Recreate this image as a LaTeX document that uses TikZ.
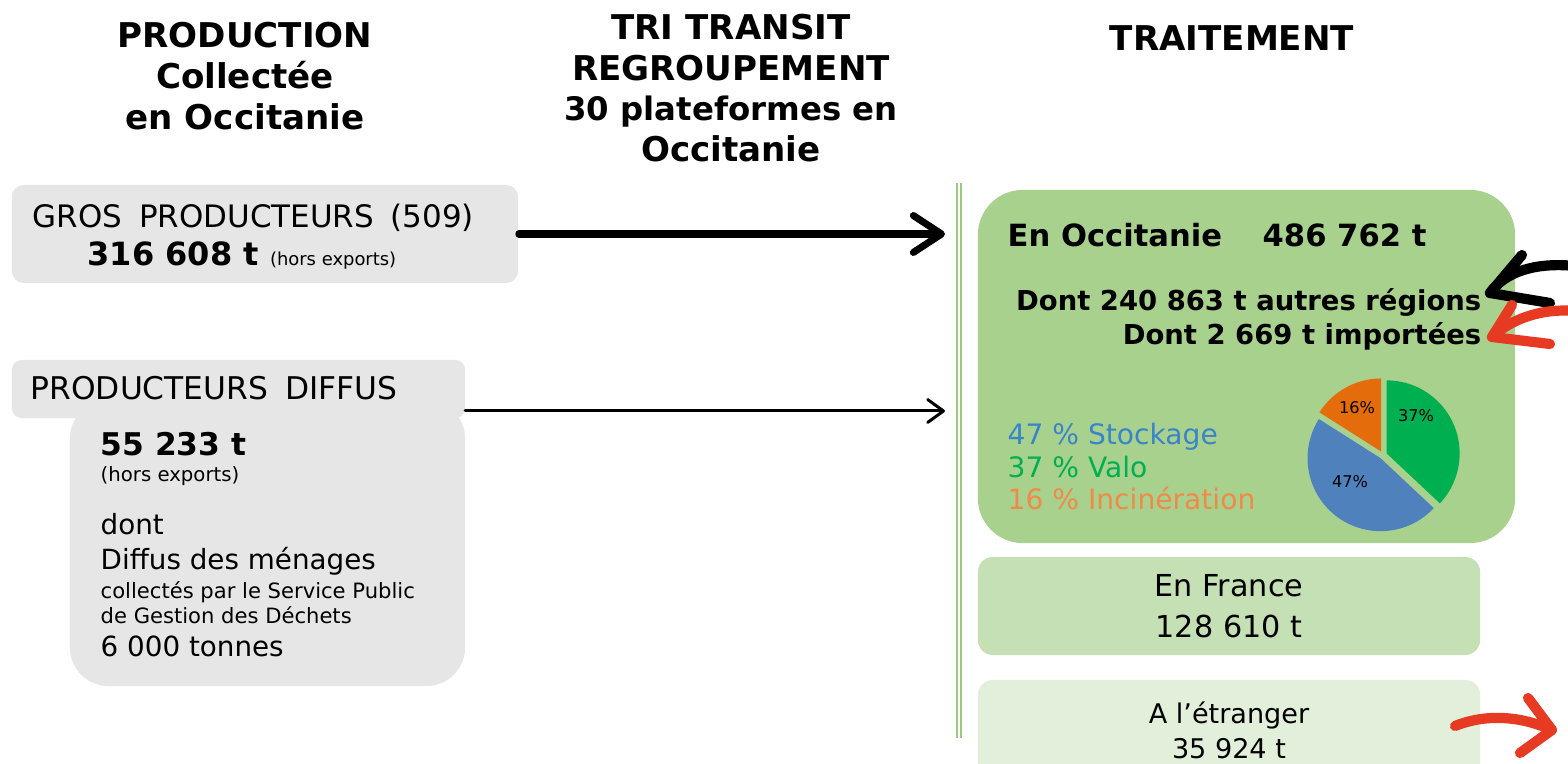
\documentclass[tikz,border=0pt]{standalone}
\usepackage{fontspec}
\setmainfont{DejaVu Sans}
\usetikzlibrary{arrows.meta,calc,positioning}
\definecolor{BoxGrey}{HTML}{E6E6E6}
\definecolor{LeafGreen}{HTML}{A9D18E}
\definecolor{SageGreen}{HTML}{C5E0B4}
\definecolor{MintGreen}{HTML}{E2EFDA}
\definecolor{RuleGreen}{HTML}{9BCB7A}
\definecolor{StockBlue}{HTML}{4F81BD}
\definecolor{LegendBlue}{HTML}{3A84C8}
\definecolor{ValoGreen}{HTML}{00B050}
\definecolor{IncinOrange}{HTML}{E46C0A}
\definecolor{LegendOrange}{HTML}{F08A48}
\definecolor{MarkerRed}{HTML}{E63A22}
\newcommand{\fs}[2]{\fontsize{#1}{#2}\selectfont}
\newcommand{\pieslice}[5]{%
  \fill[#1] ({#4}:{#5}) -- ++({#2}:73)
    arc[start angle=#2, end angle=#3, radius=73] -- cycle;%
}
\tikzset{
  panel/.style={rounded corners=#1,inner sep=0pt,draw=none},
  head/.style={font=\bfseries\fs{9.7}{11.6},align=center,inner sep=0pt},
  txt/.style={inner sep=0pt,anchor=base west},
  flowthick/.style={line width=2pt,-{Straight Barb[length=8pt,width=10.5pt,round]}},
  flowthin/.style={line width=0.85pt,-{Straight Barb[length=4.5pt,width=6.5pt,round]}},
  penstroke/.style={draw=#1,line width=2.9pt,line cap=round,line join=round},
  pielabel/.style={inner sep=0pt,font=\fs{4.6}{5}},
}
\begin{document}
\begin{tikzpicture}[x=0.01cm,y=-0.01cm,line cap=round,line join=round]
  \useasboundingbox (0,0) rectangle (1568,764);
  \fill[white] (0,0) rectangle (1568,764);
  % column headings
  \node[head] (hProd) at (245,76) {PRODUCTION\\Collectée\\en Occitanie};
  \node[head] (hTri) at (731,88) {TRI TRANSIT\\REGROUPEMENT\\{\fs{9.2}{11.6}30 plateformes en}\\Occitanie};
  \node[head] (hTrait) at (1232,38) {TRAITEMENT};
  % producers
  \node[panel=3.4pt,fill=BoxGrey,minimum width=5.06cm,minimum height=0.98cm] (gros) at (265,234) {};
  \node[txt,font=\fs{8.8}{10}] (grosName) at (32,228) {GROS\hspace{2pt} PRODUCTEURS\hspace{2pt} (509)};
  \node[txt] (grosQty) at (87,266) {\bfseries\fs{9.1}{10}316 608 t \mdseries\fs{5.1}{6}(hors exports)};
  \node[panel=11pt,fill=BoxGrey,minimum width=3.95cm,minimum height=2.86cm] (diffBody) at (267.5,543) {};
  \node[panel=2.8pt,fill=BoxGrey,minimum width=4.53cm,minimum height=0.58cm] (diffTab) at (238.5,389) {};
  \node[txt,font=\fs{8.9}{10}] (diffName) at (30,400) {PRODUCTEURS\hspace{2pt} DIFFUS};
  \node[txt,font=\bfseries\fs{8.9}{10}] (d1) at (100,456) {55 233 t};
  \node[txt,font=\fs{5.6}{6}] (d2) at (100,482) {(hors exports)};
  \node[txt,font=\fs{7.9}{9}] (d3) at (100,535) {dont};
  \node[txt,font=\fs{7.9}{9}] (d4) at (100,570) {Diffus des ménages};
  \node[txt,font=\fs{6}{7}] (d5) at (100,599) {collectés par le Service Public};
  \node[txt,font=\fs{6}{7}] (d6) at (100,624) {de Gestion des Déchets};
  \node[txt,font=\fs{7.9}{9}] (d7) at (100,657) {6 000 tonnes};
  % flows to treatment
  \coordinate (sep) at (945,0);
  \coordinate (diffOut) at (465,411);
  \draw[flowthick] (gros.east) -- (gros.east -| sep);
  \draw[flowthin] (diffOut) -- (diffOut -| sep);
  \foreach \sx in {957,961}
    \draw[RuleGreen,line width=0.6pt,line cap=butt] (\sx,183) -- (\sx,738);
  % treatment
  \node[panel=12.8pt,fill=LeafGreen,minimum width=5.37cm,minimum height=3.53cm] (occ) at (1246.5,366.5) {};
  \node[txt,font=\bfseries\fs{8.7}{10}] (occTitle) at (1007,247) {En Occitanie};
  \node[txt,font=\bfseries\fs{8.7}{10}] (occQty) at (1262,247) {486 762 t};
  \node[txt,anchor=base east,font=\bfseries\fs{7.8}{9}] (occReg) at (1482,311) {Dont 240 863 t autres régions};
  \node[txt,anchor=base east,font=\bfseries\fs{7.8}{9}] (occImp) at (1482,345) {Dont 2 669 t importées};
  \node[txt,font=\fs{8}{9},text=LegendBlue] (legStock) at (1007,445) {47 \% Stockage};
  \node[txt,font=\fs{8}{9},text=ValoGreen] (legValo) at (1007,478) {37 \% Valo};
  \node[txt,font=\fs{8}{9},text=LegendOrange] (legIncin) at (1007,510) {16 \% Incinération};
  \begin{scope}[shift={(1383,455)},yscale=-1]
    \pieslice{ValoGreen}{90}{-43.2}{23.4}{4}
    \pieslice{StockBlue}{-43.2}{-212.4}{-127.8}{4}
    \pieslice{IncinOrange}{147.6}{90}{118.8}{4}
    \node[pielabel] (pieIncin) at (-26,47) {16\%};
    \node[pielabel] (pieValo) at (33,39) {37\%};
    \node[pielabel] (pieStock) at (-33,-27) {47\%};
  \end{scope}
  \node[panel=4.3pt,fill=SageGreen,minimum width=5.02cm,minimum height=0.98cm,
        align=center,font=\fs{8.6}{11.7}] (fra) at (1229,606) {En France\\128 610 t};
  \node[panel=4.3pt,fill=MintGreen,minimum width=5.02cm,minimum height=1cm,
        align=center,font=\fs{7.7}{10}] (etr) at (1229,730) {A l’étranger\\35 924 t};
  % hand drawn arrows
  \coordinate (blkFrom) at (1575,266);
  \coordinate (blkTip) at (1490,293);
  \coordinate (blkUp) at (1522,255);
  \coordinate (blkLow) at (1550,303);
  \draw[penstroke=black] (blkFrom) .. controls (1535,262) and (1505,272) .. (blkTip);
  \draw[penstroke=black] (blkUp) -- (blkTip) -- (blkLow);
  \coordinate (impFrom) at (1575,311);
  \coordinate (impTip) at (1492,337);
  \coordinate (impUp) at (1512,305);
  \coordinate (impLow) at (1550,344);
  \draw[penstroke=MarkerRed] (impFrom) .. controls (1540,308) and (1510,320) .. (impTip);
  \draw[penstroke=MarkerRed] (impUp) -- (impTip) -- (impLow);
  \coordinate (expFrom) at (1455,726);
  \coordinate (expTip) at (1552,730);
  \coordinate (expUp) at (1528,698);
  \coordinate (expLow) at (1520,753);
  \draw[penstroke=MarkerRed] (expFrom) .. controls (1490,712) and (1525,718) .. (expTip);
  \draw[penstroke=MarkerRed] (expUp) -- (expTip) -- (expLow);
\end{tikzpicture}
\end{document}
